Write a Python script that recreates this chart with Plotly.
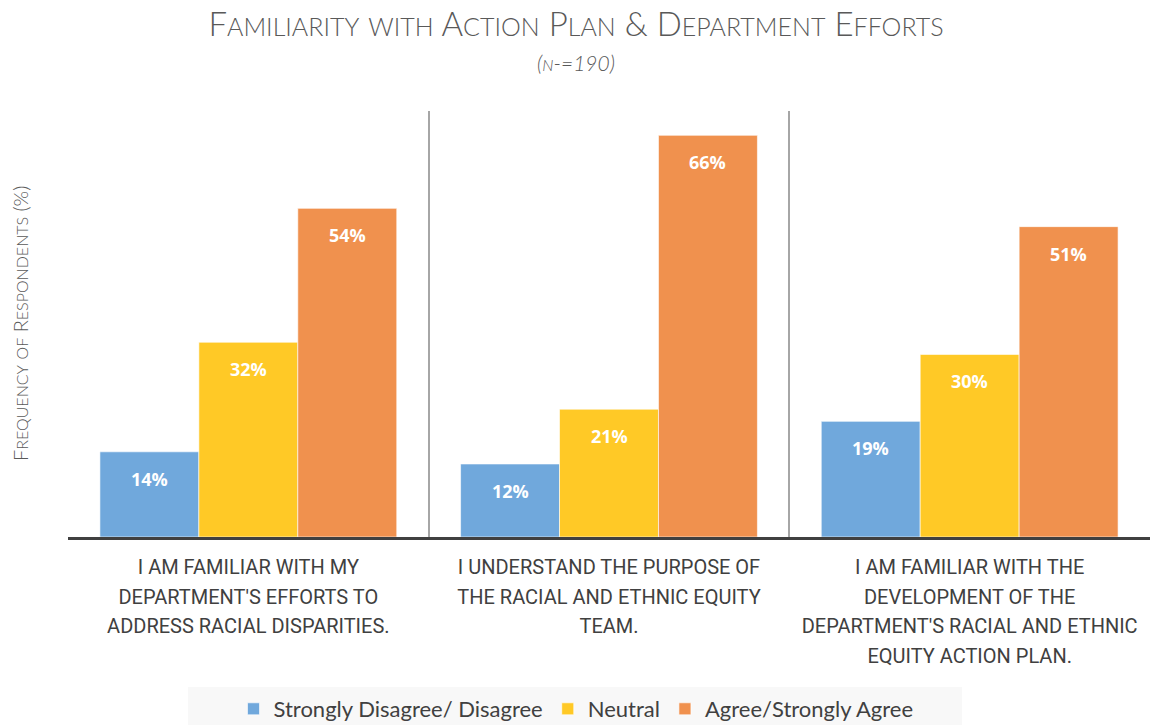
import plotly.graph_objects as go

categories = [
    "I AM FAMILIAR WITH MY<br>DEPARTMENT'S EFFORTS TO<br>ADDRESS RACIAL DISPARITIES.",
    "I UNDERSTAND THE PURPOSE OF<br>THE RACIAL AND ETHNIC EQUITY<br>TEAM.",
    "I AM FAMILIAR WITH THE<br>DEVELOPMENT OF THE<br>DEPARTMENT'S RACIAL AND ETHNIC<br>EQUITY ACTION PLAN.",
]
series_names = ["Strongly Disagree/ Disagree", "Neutral", "Agree/Strongly Agree"]
disagree = [14, 12, 19]
neutral = [32, 21, 30]
agree = [54, 66, 51]
series_values = [disagree, neutral, agree]
colors = ["#70A8DC", "#FFC926", "#F0914E"]

W, H = 1151, 725
ML, MR, MT, MB = 68, 1, 111, 188
BARGAP = 0.177
plot_w = W - ML - MR
plot_h = H - MT - MB


def smallcaps(s, big, small):
    out = []
    for ch in s:
        if ch.islower():
            out.append(f'<span style="font-size:{small}px">{ch.upper()}</span>')
        else:
            out.append(f'<span style="font-size:{big}px">{ch}</span>')
    return "".join(out)


def tick_text(label, size):
    return "<br>".join(f'<span style="font-size:{size}px">{ln}</span>' for ln in label.split("<br>"))


def px_x(x):
    return (x - ML) / plot_w


def px_y(y):
    return (H - MB - y) / plot_h


fig = go.Figure()
for name, vals, col in zip(series_names, series_values, colors):
    fig.add_trace(go.Bar(
        name=name, x=categories, y=vals,
        marker=dict(color=col, line=dict(color="rgba(255,255,255,0.6)", width=1)),
    ))

bar_px = plot_w / len(categories) * (1 - BARGAP) / len(series_names)
annotations = []
for i, vals in enumerate(series_values):
    for cat, v in zip(categories, vals):
        annotations.append(dict(
            x=cat, y=v, xref="x", yref="y", text=f"<b>{v}%</b>", showarrow=False,
            xshift=(i - 1) * bar_px, yshift=-27,
            font=dict(family="Open Sans", size=18, color="white"),
        ))

annotations.append(dict(
    xref="paper", yref="paper", x=px_x(20), y=0.5, textangle=-90,
    text=smallcaps("Frequency of Respondents (%)", 20, 16), showarrow=False,
    xanchor="center", yanchor="middle",
    font=dict(family="Lato", size=20, color="#595959", weight=300),
))
annotations.append(dict(
    xref="paper", yref="paper", x=px_x(576), y=px_y(62),
    text="<i>" + smallcaps("(n-=190)", 21, 16) + "</i>", showarrow=False,
    xanchor="center", yanchor="middle",
    font=dict(family="Lato", size=21, color="#595959", weight=300),
))

fig.update_layout(
    width=W, height=H,
    margin=dict(l=ML, r=MR, t=MT, b=MB, autoexpand=False),
    paper_bgcolor="white", plot_bgcolor="white",
    barmode="group", bargap=BARGAP, bargroupgap=0,
    title=dict(
        text=smallcaps("Familiarity with Action Plan & Department Efforts", 33, 25),
        x=576 / W, xanchor="center", y=1 - 24 / H, yanchor="middle", yref="container",
        font=dict(family="Lato", size=33, color="#595959", weight=300),
    ),
    xaxis=dict(
        tickson="boundaries", showgrid=True, gridcolor="#A6A6A6", gridwidth=1.5,
        showline=True, linecolor="#404040", linewidth=3, ticks="",
        ticklabelstandoff=6, tickangle=0, automargin=False,
        tickmode="array", tickvals=categories,
        ticktext=[tick_text(c, 20) for c in categories],
        tickfont=dict(family="Roboto", size=23, color="#404040"),
        zeroline=False,
    ),
    yaxis=dict(range=[0, 70], showgrid=False, showticklabels=False, zeroline=False,
               showline=False, ticks="", automargin=False),
    legend=dict(
        orientation="h", x=px_x(576), xanchor="center",
        y=px_y(688), yanchor="top",
        bgcolor="rgba(0,0,0,0)", font=dict(family="Lato", size=22, color="#404040"),
    ),
    shapes=[dict(
        type="rect", xref="paper", yref="paper", layer="below",
        x0=px_x(188), x1=px_x(962), y0=px_y(725), y1=px_y(687),
        fillcolor="#F8F8F8", line=dict(width=0),
    )],
    annotations=annotations,
    showlegend=True,
)

fig.write_html("out.html", config={"displayModeBar": False},
               post_script="document.body.style.margin='0';")
